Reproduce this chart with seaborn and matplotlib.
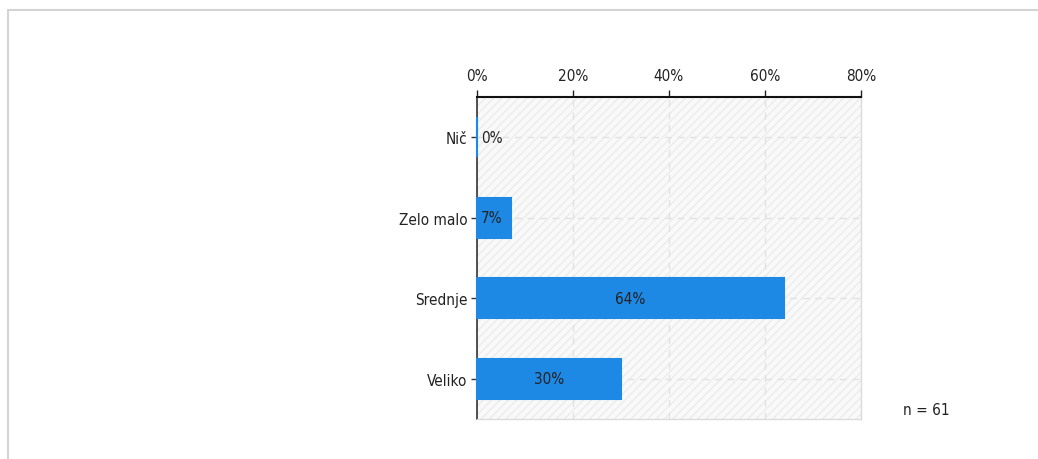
import matplotlib
matplotlib.use("Agg")
import matplotlib.pyplot as plt
import seaborn as sns
import pandas as pd
from matplotlib.patches import Rectangle
from matplotlib.lines import Line2D

categories = ["Nič", "Zelo malo", "Srednje", "Veliko"]
values = [0, 7, 64, 30]
value_labels = ["0%", "7%", "64%", "30%"]
xticks = [0, 20, 40, 60, 80]
xtick_labels = ["0%", "20%", "40%", "60%", "80%"]
n_text = "n = 61"

sns.set_theme(style="white")
plt.rcParams['font.family'] = ['DejaVu Sans']
plt.rcParams['font.stretch'] = 'condensed'

df = pd.DataFrame({"cat": categories, "val": values})

fig = plt.figure(figsize=(10.38, 4.6), dpi=100)
fig.patch.set_facecolor("white")
bx = 7.5 / 1038
by = 1 - 10.5 / 460
fig.add_artist(Line2D([bx, 1.0], [by, by], transform=fig.transFigure,
                      color="#d4d4d4", linewidth=1.5))
fig.add_artist(Line2D([bx, bx], [0.0, by], transform=fig.transFigure,
                      color="#d4d4d4", linewidth=1.5))

ax = fig.add_axes([477/1038, 1 - 420/460, 384/1038, 322/460])
ax.set_facecolor("#f9f9f9")
bg = Rectangle((0, 0), 1, 1, transform=ax.transAxes, facecolor="none", hatch="////",
               edgecolor="#ececec", linewidth=0, zorder=0)
ax.add_patch(bg)

sns.barplot(data=df, x="val", y="cat", orient="h", color="#1e88e5", saturation=1,
            width=0.5, ax=ax, zorder=3, edgecolor="#1e88e5", linewidth=1.5)
for p in ax.patches:
    if p is not bg:
        p.set_clip_on(False)

ax.set_xlim(0, 80)
ax.set_ylim(3.5, -0.5)
ax.set_xticks(xticks)
ax.set_xticklabels(xtick_labels)
ax.xaxis.tick_top()
ax.set_xlabel("")
ax.set_ylabel("")
ax.tick_params(axis="x", which="both", top=True, bottom=False, length=5, width=1,
               color="#222222", labelsize=11, labelcolor="#222222", pad=5, direction="out")
ax.tick_params(axis="y", left=True, length=4, width=1, color="#333333",
               labelsize=11, labelcolor="#222222", pad=3, direction="out")

ax.grid(True, axis="both", linestyle=(0, (5, 4)), color="#e2e2e2", linewidth=1, zorder=1)
ax.set_axisbelow(True)

for s in ["right", "bottom"]:
    ax.spines[s].set_color("#dcdcdc")
    ax.spines[s].set_linewidth(1)
ax.spines["top"].set_color("#111111")
ax.spines["top"].set_linewidth(1.5)
ax.spines["left"].set_color("#333333")
ax.spines["left"].set_linewidth(1.2)

for i, (v, lab) in enumerate(zip(values, value_labels)):
    if v < 10:
        ax.text(0.8, i, lab, ha="left", va="center", fontsize=11, color="#222222", zorder=5)
    else:
        ax.text(v / 2, i, lab, ha="center", va="center", fontsize=11, color="#222222", zorder=5)

fig.text(903/1038, 1 - 411/460, n_text, ha="left", va="center", fontsize=11, color="#222222")

fig.savefig("out.png", dpi=100)
